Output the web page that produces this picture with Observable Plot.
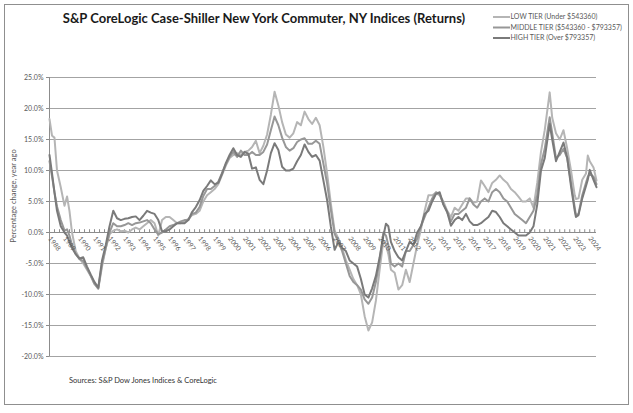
<!DOCTYPE html>
<html>
<head>
<meta charset="utf-8">
<script src="https://cdn.jsdelivr.net/npm/d3@7"></script>
<script src="https://cdn.jsdelivr.net/npm/@observablehq/plot@0.6"></script>
<style>
  html, body { margin: 0; padding: 0; background: #fff; }
  #chart svg { display: block; }
</style>
</head>
<body>
<div id="chart"></div>
<script>
// ---- Data ----
const titleText = "S&P CoreLogic Case-Shiller New York Commuter, NY Indices (Returns)";
const sourceText = "Sources: S&P Dow Jones Indices & CoreLogic";
const yAxisTitle = "Percentage change, year ago";
const tiers = ["LOW TIER (Under $543360)", "MIDDLE TIER ($543360 - $793357)", "HIGH TIER (Over $793357)"];
const tierColors = ["#b5b5b5", "#979797", "#7a7a7a"];
const yTicks = [-20, -15, -10, -5, 0, 5, 10, 15, 20, 25];
const yearLabels = ["1988","1989","1990","1991","1992","1993","1994","1995","1996","1997","1998","1999","2000","2001","2002","2003","2004","2005","2006","2007","2008","2009","2010","2011","2012","2013","2014","2015","2016","2017","2018","2019","2020","2021","2022","2023","2024"];

// decimal year of each reading
const dates = [
1988.00,1988.17,1988.33,1988.50,1988.75,1989.00,1989.17,1989.33,1989.50,1989.75,
1990.00,1990.25,1990.50,1990.75,1991.00,1991.25,1991.50,1991.75,
1992.00,1992.25,1992.50,1992.75,1993.00,1993.25,1993.50,1993.75,
1994.00,1994.25,1994.50,1994.75,1995.00,1995.25,1995.50,1995.75,
1996.00,1996.25,1996.50,1996.75,1997.00,1997.25,1997.50,1997.75,
1998.00,1998.25,1998.50,1998.75,1999.00,1999.25,1999.50,1999.75,
2000.00,2000.25,2000.50,2000.75,2001.00,2001.25,2001.50,2001.75,
2002.00,2002.25,2002.50,2002.75,2003.00,2003.25,2003.50,2003.75,
2004.00,2004.25,2004.50,2004.75,2005.00,2005.25,2005.50,2005.75,
2006.00,2006.25,2006.50,2006.75,2007.00,2007.25,2007.50,2007.75,
2008.00,2008.25,2008.50,2008.75,2009.00,2009.25,2009.50,2009.75,
2010.00,2010.25,2010.42,2010.58,2010.75,2011.00,2011.25,2011.50,2011.75,
2012.00,2012.25,2012.50,2012.75,2013.00,2013.25,2013.50,2013.75,
2014.00,2014.25,2014.50,2014.75,2015.00,2015.25,2015.50,2015.75,
2016.00,2016.25,2016.50,2016.75,2017.00,2017.25,2017.50,2017.75,
2018.00,2018.25,2018.50,2018.75,2019.00,2019.25,2019.50,2019.75,
2020.00,2020.25,2020.50,2020.75,2021.00,2021.33,2021.50,2021.75,
2022.00,2022.25,2022.50,2022.75,2023.00,2023.08,2023.25,2023.50,2023.75,2023.87,
2024.00,2024.25,2024.45
];

const lowTier = [
18.3,15.6,15.3,10.0,7.3,4.3,5.8,3.5,0.0,-3.0,
-4.2,-5.0,-6.0,-7.0,-8.3,-9.1,-5.5,-2.5,
-0.3,0.3,0.5,0.2,0.3,0.0,0.5,0.8,
0.5,1.0,1.5,2.0,1.5,-0.5,2.0,2.5,
2.5,2.0,1.5,1.5,1.8,2.2,2.8,3.0,
3.5,5.0,6.0,6.5,7.0,7.8,9.3,10.8,
12.0,12.5,12.8,12.5,13.0,13.2,13.8,14.8,
12.8,14.0,15.8,19.0,22.7,20.5,17.8,15.8,
15.3,16.0,17.8,17.3,19.5,18.3,17.5,18.5,
17.3,13.8,9.5,4.6,0.3,-1.0,-2.5,-4.5,
-6.0,-7.5,-8.5,-10.0,-13.5,-15.8,-14.5,-11.0,
-6.0,-1.3,-2.0,-3.5,-6.0,-6.5,-9.2,-8.5,-6.0,
-8.0,-5.0,-2.0,0.5,3.5,6.0,6.0,6.4,
6.0,5.0,3.5,2.5,4.0,3.5,4.5,5.5,
5.5,4.8,5.0,8.4,7.5,6.5,8.0,8.5,
9.2,8.5,8.0,7.0,6.5,5.8,5.0,5.0,
5.5,4.0,8.0,13.0,16.5,22.6,18.5,16.0,
15.0,16.5,13.5,10.0,6.0,5.4,5.5,8.5,9.5,12.4,
11.5,10.5,8.4
];

const middleTier = [
11.5,9.0,6.5,4.2,2.0,0.3,0.5,-0.5,-2.0,-3.5,
-4.3,-4.6,-5.8,-7.0,-8.3,-9.0,-5.0,-2.5,
0.0,1.5,1.0,1.0,1.2,1.5,1.2,1.5,
1.6,1.8,2.0,1.5,0.5,-0.3,0.0,0.5,
1.0,1.2,1.5,1.8,2.0,2.0,3.0,3.2,
4.1,5.9,7.0,7.0,7.5,8.2,9.6,11.0,
12.2,13.0,12.2,13.2,12.5,12.5,13.0,12.5,
12.5,13.0,14.2,16.5,18.7,17.3,15.3,13.8,
13.2,13.6,14.6,15.0,15.2,14.3,14.3,14.8,
14.3,11.1,7.9,3.6,-0.2,-1.5,-3.0,-5.0,
-7.0,-8.0,-8.5,-9.2,-10.8,-11.5,-10.5,-8.0,
-4.5,0.0,-0.5,-2.0,-5.0,-5.5,-5.0,-5.5,-3.0,
-3.0,-2.0,-1.0,1.0,2.5,4.0,5.5,6.5,
6.2,4.5,3.3,1.8,3.0,3.0,3.5,4.0,
5.5,4.5,4.0,5.0,5.5,5.0,6.5,7.0,
6.5,5.5,5.0,4.0,3.0,2.5,2.0,1.5,
2.5,3.5,6.0,11.0,13.5,18.6,16.0,12.0,
12.5,13.5,12.0,8.0,4.0,2.8,3.0,6.0,8.0,9.0,
9.5,9.0,7.8
];

const highTier = [
12.5,9.5,6.5,3.5,1.0,0.0,-0.5,-1.5,-2.5,-3.5,
-4.2,-4.0,-5.5,-6.8,-8.0,-8.9,-4.5,-2.0,
1.0,3.5,2.3,2.0,2.2,2.3,2.5,2.6,
2.0,2.7,3.5,3.2,3.0,2.0,0.2,0.2,
0.5,1.0,1.5,1.5,1.5,2.0,3.3,4.1,
5.2,6.7,7.5,8.4,7.8,8.0,9.5,11.2,
12.5,13.6,12.5,12.2,13.0,12.7,10.3,10.5,
8.5,7.8,10.0,12.8,14.4,13.3,10.6,10.0,
10.0,10.3,11.5,12.5,14.2,13.0,12.2,12.5,
11.6,8.4,5.2,0.9,-2.8,-1.5,-2.5,-3.0,
-4.5,-5.0,-5.5,-7.5,-10.0,-10.5,-9.0,-7.0,
-4.0,-0.5,1.4,1.0,-1.5,-3.0,-4.0,-4.5,-3.0,
-1.5,-2.0,0.0,1.0,3.0,3.5,5.0,6.2,
6.5,4.5,3.3,1.1,2.0,2.5,2.0,3.0,
1.8,1.2,1.2,1.5,2.0,2.5,3.5,3.3,
2.5,1.5,1.0,0.5,0.0,-0.5,-0.5,-0.5,
0.0,1.0,4.5,10.0,12.0,17.5,15.0,11.5,
13.0,14.5,12.0,7.5,3.5,2.5,2.8,5.5,7.5,8.5,
10.1,8.5,7.3
];

// ---- Build tidy table for Plot ----
const seriesValues = [lowTier, middleTier, highTier];
const table = tiers.flatMap((tier, k) => dates.map((t, i) => ({t, v: seriesValues[k][i], tier})));
const xStart = +yearLabels[0];
const xEnd = dates[dates.length - 1];
const minorTicks = d3.range(xStart, xEnd, 1/3);
const pct = d => (d < 0 ? "-" : "") + Math.abs(d).toFixed(1) + "%";

const FONT = "Lato, 'Open Sans', sans-serif";
const gray = "#595959";

const chart = Plot.plot({
  width: 633,
  height: 413,
  marginLeft: 49,
  marginRight: 37,
  marginTop: 77,
  marginBottom: 57,
  style: {fontFamily: FONT, background: "#fff", overflow: "visible"},
  x: {domain: [xStart, xEnd], axis: null},
  y: {domain: [yTicks[0], yTicks[yTicks.length - 1]], axis: null},
  color: {domain: tiers, range: tierColors},
  marks: [
    Plot.gridY(yTicks, {stroke: "#a3a3a3", strokeOpacity: 1, strokeWidth: 1}),
    Plot.axisY(yTicks, {tickFormat: pct, tickSize: 3, tickPadding: 3, fontSize: 7, color: gray, stroke: "#8c8c8c", label: null}),
    Plot.ruleX([xStart], {stroke: "#8c8c8c"}),
    Plot.ruleY([0], {stroke: "#8c8c8c"}),
    Plot.ruleX(minorTicks, {x: d => d, y1: 0, y2: 0.45, stroke: "#8c8c8c"}),
    Plot.line(table, {x: "t", y: "v", z: "tier", stroke: "tier", strokeWidth: 2, curve: "linear"}),
    Plot.text(yearLabels, {x: d => +d, y: 0, text: d => d, rotate: 52, textAnchor: "start", lineAnchor: "middle", dx: 0, dy: 5, fontSize: 6.8, fill: gray})
  ]
});

const svg = d3.select(chart);
// outer chart frame
svg.insert("rect", ":first-child")
  .attr("x", 4.5).attr("y", 4.5).attr("width", 624).attr("height", 400)
  .attr("fill", "#fff").attr("stroke", "#8f8f8f").attr("stroke-width", 1);

// title
svg.append("text")
  .attr("x", 264).attr("y", 23)
  .attr("text-anchor", "middle")
  .attr("font-family", FONT).attr("font-weight", "bold").attr("font-size", 13)
  .attr("fill", "#1a1a1a")
  .text(titleText);

// legend
const lg = svg.append("g").attr("font-family", FONT).attr("font-size", 7).attr("fill", gray).attr("text-anchor", "start");
tiers.forEach((tier, i) => {
  const y = 17 + i * 10.5;
  lg.append("line").attr("x1", 493).attr("x2", 510).attr("y1", y).attr("y2", y)
    .attr("stroke", tierColors[i]).attr("stroke-width", 2);
  lg.append("text").attr("x", 510.5).attr("y", y).attr("dy", "0.35em").attr("text-anchor", "start").text(tier);
});

// y-axis title
svg.append("text")
  .attr("transform", "translate(16,196) rotate(-90)")
  .attr("text-anchor", "middle")
  .attr("font-family", FONT).attr("font-size", 7.5).attr("fill", gray)
  .text(yAxisTitle);

// source
svg.append("text")
  .attr("x", 69).attr("y", 383)
  .attr("text-anchor", "start")
  .attr("font-family", FONT).attr("font-size", 7.5).attr("fill", "#333")
  .text(sourceText);

document.getElementById("chart").appendChild(chart);
</script>
</body>
</html>
